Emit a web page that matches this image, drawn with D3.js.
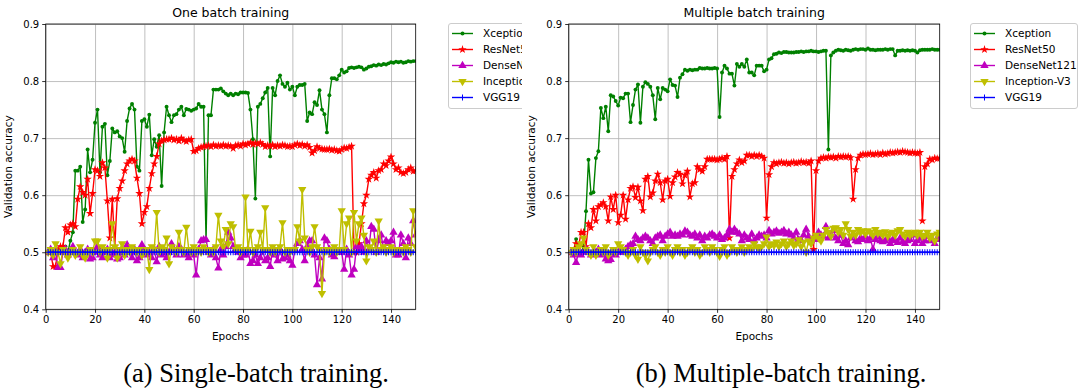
<!DOCTYPE html>
<html>
<head>
<meta charset="utf-8">
<script src="https://cdn.jsdelivr.net/npm/d3@7"></script>
<style>
  html, body { margin: 0; padding: 0; background: #fff; }
  svg { display: block; }
  text { font-family: "DejaVu Sans", sans-serif; fill: #000; }
  .caption { font-family: "Liberation Serif", serif; }
</style>
</head>
<body>
<svg id="chart" width="1078" height="389"></svg>
<script>
// epochs on the x axis
const epochs = d3.range(1, 151);
const seriesNames = ["Xception", "ResNet50", "DenseNet121", "Inception-V3", "VGG19"];
const seriesColors = ["#008000", "#ff0000", "#bf00bf", "#bfbf00", "#0000ff"];
const xTicks = [0, 20, 40, 60, 80, 100, 120, 140];
const yTicks = [0.4, 0.5, 0.6, 0.7, 0.8, 0.9];

// (a) one batch training
const oneXception = [
  0.5, 0.5, 0.5, 0.5, 0.5, 0.5, 0.5, 0.51, 0.5, 0.52,
  0.535, 0.643, 0.643, 0.65, 0.553, 0.575, 0.68, 0.64, 0.662, 0.727,
  0.75, 0.64, 0.72, 0.725, 0.635, 0.66, 0.717, 0.71, 0.712, 0.703,
  0.7, 0.676, 0.73, 0.752, 0.76, 0.75, 0.65, 0.643, 0.73, 0.733,
  0.72, 0.741, 0.67, 0.698, 0.685, 0.705, 0.616, 0.71, 0.755, 0.74,
  0.728, 0.74, 0.742, 0.75, 0.755, 0.74, 0.751, 0.75, 0.748, 0.75,
  0.752, 0.76, 0.755, 0.755, 0.52, 0.74, 0.74, 0.785, 0.785, 0.785,
  0.787, 0.782, 0.778, 0.775, 0.778, 0.775, 0.778, 0.777, 0.78, 0.78,
  0.78, 0.779, 0.75, 0.698, 0.594, 0.755, 0.76, 0.77, 0.78, 0.788,
  0.668, 0.788, 0.775, 0.8, 0.81, 0.795, 0.79, 0.797, 0.785, 0.79,
  0.775, 0.79, 0.793, 0.793, 0.795, 0.73, 0.745, 0.742, 0.763, 0.758,
  0.784, 0.75, 0.742, 0.71, 0.775, 0.805, 0.805, 0.803, 0.81, 0.82,
  0.815, 0.817, 0.823, 0.824, 0.823, 0.824, 0.825, 0.824, 0.82, 0.822,
  0.825, 0.826, 0.828, 0.827, 0.829, 0.828, 0.83, 0.829, 0.831, 0.833,
  0.832, 0.834, 0.833, 0.834, 0.832, 0.833, 0.835, 0.834, 0.835, 0.835
];
const oneResNet = [
  0.5, 0.5, 0.475, 0.475, 0.505, 0.51, 0.51, 0.543, 0.535, 0.548,
  0.55, 0.545, 0.593, 0.615, 0.605, 0.6, 0.628, 0.568, 0.603, 0.645,
  0.643, 0.633, 0.657, 0.648, 0.59, 0.525, 0.593, 0.51, 0.594, 0.612,
  0.625, 0.643, 0.655, 0.66, 0.663, 0.66, 0.63, 0.603, 0.55, 0.57,
  0.58, 0.612, 0.638, 0.655, 0.668, 0.69, 0.695, 0.697, 0.698, 0.698,
  0.7, 0.697, 0.698, 0.695, 0.7, 0.696, 0.694, 0.697, 0.698, 0.677,
  0.678, 0.682, 0.684, 0.685, 0.686, 0.687, 0.685, 0.688, 0.686, 0.687,
  0.686, 0.688, 0.686, 0.687, 0.686, 0.682, 0.687, 0.688, 0.686, 0.69,
  0.688, 0.69, 0.692, 0.689, 0.691, 0.69, 0.692, 0.689, 0.685, 0.687,
  0.686, 0.688, 0.685, 0.687, 0.686, 0.688, 0.687, 0.685, 0.686, 0.685,
  0.688, 0.69, 0.687, 0.689, 0.686, 0.688, 0.684, 0.674, 0.678, 0.685,
  0.682, 0.681, 0.68, 0.68, 0.681, 0.679, 0.68, 0.678, 0.677, 0.68,
  0.683, 0.682, 0.684, 0.686, 0.5, 0.5, 0.515, 0.55, 0.585, 0.6,
  0.628, 0.635, 0.64, 0.63, 0.643, 0.645, 0.655, 0.652, 0.66, 0.667,
  0.655, 0.645, 0.648, 0.64, 0.638, 0.64, 0.645, 0.648, 0.642, 0.643
];
const oneDenseNet = [
  0.5, 0.505, 0.49, 0.5, 0.473, 0.473, 0.5, 0.505, 0.495, 0.5,
  0.51, 0.5, 0.495, 0.505, 0.49, 0.5, 0.505, 0.488, 0.49, 0.5,
  0.51, 0.495, 0.49, 0.5, 0.505, 0.49, 0.495, 0.5, 0.488, 0.49,
  0.5, 0.495, 0.513, 0.5, 0.49, 0.505, 0.485, 0.49, 0.513, 0.505,
  0.495, 0.5, 0.49, 0.505, 0.483, 0.51, 0.495, 0.5, 0.49, 0.5,
  0.515, 0.505, 0.495, 0.51, 0.505, 0.495, 0.498, 0.49, 0.5, 0.495,
  0.46, 0.505, 0.52, 0.522, 0.522, 0.5, 0.495, 0.505, 0.49, 0.472,
  0.505, 0.495, 0.51, 0.535, 0.525, 0.51, 0.505, 0.5, 0.49, 0.495,
  0.495, 0.505, 0.48, 0.485, 0.495, 0.48, 0.49, 0.503, 0.485, 0.49,
  0.475, 0.505, 0.495, 0.485, 0.505, 0.488, 0.49, 0.495, 0.485, 0.477,
  0.505, 0.515, 0.52, 0.505, 0.485, 0.51, 0.52, 0.52, 0.495, 0.443,
  0.49, 0.453, 0.525, 0.52, 0.505, 0.495, 0.492, 0.5, 0.5, 0.5,
  0.47, 0.505, 0.495, 0.46, 0.47, 0.51, 0.505, 0.51, 0.5, 0.52,
  0.505, 0.545, 0.54, 0.5, 0.52, 0.53, 0.505, 0.52, 0.515, 0.52,
  0.535, 0.495, 0.495, 0.53, 0.515, 0.49, 0.525, 0.515, 0.555, 0.53
];
const oneInception = [
  0.5, 0.505, 0.495, 0.515, 0.5, 0.48, 0.505, 0.5, 0.49, 0.5,
  0.505, 0.495, 0.5, 0.51, 0.495, 0.49, 0.5, 0.505, 0.5, 0.52,
  0.52, 0.5, 0.51, 0.505, 0.49, 0.505, 0.55, 0.51, 0.49, 0.505,
  0.515, 0.495, 0.505, 0.5, 0.51, 0.505, 0.5, 0.505, 0.495, 0.5,
  0.505, 0.47, 0.51, 0.505, 0.57, 0.5, 0.51, 0.505, 0.525, 0.48,
  0.51, 0.505, 0.5, 0.535, 0.505, 0.5, 0.544, 0.505, 0.5, 0.51,
  0.5, 0.505, 0.5, 0.51, 0.505, 0.5, 0.505, 0.5, 0.51, 0.565,
  0.52, 0.51, 0.54, 0.515, 0.55, 0.545, 0.505, 0.51, 0.5, 0.505,
  0.597, 0.505, 0.537, 0.5, 0.505, 0.51, 0.535, 0.505, 0.578, 0.505,
  0.5, 0.51, 0.5, 0.505, 0.51, 0.552, 0.5, 0.505, 0.5, 0.505,
  0.505, 0.545, 0.52, 0.61, 0.525, 0.505, 0.5, 0.51, 0.545, 0.51,
  0.505, 0.428, 0.5, 0.505, 0.5, 0.505, 0.51, 0.5, 0.505, 0.573,
  0.505, 0.55, 0.56, 0.5, 0.57, 0.52, 0.55, 0.56, 0.53, 0.485,
  0.51, 0.505, 0.52, 0.5, 0.555, 0.505, 0.51, 0.5, 0.505, 0.51,
  0.5, 0.505, 0.505, 0.505, 0.5, 0.51, 0.505, 0.5, 0.573, 0.51
];
const oneVGG = [
  0.5, 0.5, 0.5, 0.5, 0.5, 0.5, 0.5, 0.5, 0.5, 0.5,
  0.5, 0.5, 0.5, 0.5, 0.5, 0.5, 0.5, 0.5, 0.5, 0.5,
  0.5, 0.5, 0.5, 0.5, 0.5, 0.5, 0.5, 0.5, 0.5, 0.5,
  0.5, 0.5, 0.5, 0.5, 0.5, 0.5, 0.5, 0.5, 0.5, 0.5,
  0.5, 0.5, 0.5, 0.5, 0.5, 0.5, 0.5, 0.5, 0.5, 0.5,
  0.5, 0.5, 0.5, 0.5, 0.5, 0.5, 0.5, 0.5, 0.5, 0.5,
  0.5, 0.5, 0.5, 0.5, 0.5, 0.5, 0.5, 0.5, 0.5, 0.5,
  0.5, 0.5, 0.5, 0.5, 0.5, 0.5, 0.5, 0.5, 0.5, 0.5,
  0.5, 0.5, 0.5, 0.5, 0.5, 0.5, 0.5, 0.5, 0.5, 0.5,
  0.5, 0.5, 0.5, 0.5, 0.5, 0.5, 0.5, 0.5, 0.5, 0.5,
  0.5, 0.5, 0.5, 0.5, 0.5, 0.5, 0.5, 0.5, 0.5, 0.5,
  0.5, 0.5, 0.5, 0.5, 0.5, 0.5, 0.5, 0.5, 0.5, 0.5,
  0.5, 0.5, 0.5, 0.5, 0.5, 0.5, 0.5, 0.5, 0.5, 0.5,
  0.5, 0.5, 0.5, 0.5, 0.5, 0.5, 0.5, 0.5, 0.5, 0.5,
  0.5, 0.5, 0.5, 0.5, 0.5, 0.5, 0.5, 0.5, 0.5, 0.5
];

// (b) multiple batch training
const multiXception = [
  0.5, 0.5, 0.523, 0.5, 0.5, 0.51, 0.572, 0.662, 0.603, 0.605,
  0.665, 0.677, 0.753, 0.735, 0.755, 0.712, 0.775, 0.773, 0.765, 0.757,
  0.771, 0.77, 0.778, 0.778, 0.728, 0.758, 0.785, 0.794, 0.727, 0.79,
  0.798, 0.795, 0.79, 0.775, 0.733, 0.788, 0.768, 0.788, 0.785, 0.782,
  0.803, 0.793, 0.792, 0.772, 0.806, 0.812, 0.82, 0.818, 0.82, 0.819,
  0.82, 0.82, 0.823, 0.822, 0.822, 0.823, 0.822, 0.822, 0.823, 0.822,
  0.737, 0.815, 0.827, 0.822, 0.813, 0.813, 0.792, 0.83, 0.825, 0.83,
  0.825, 0.838, 0.815, 0.815, 0.81, 0.827, 0.827, 0.827, 0.817, 0.82,
  0.838, 0.84, 0.847, 0.848, 0.85, 0.849, 0.851, 0.851, 0.85, 0.85,
  0.85, 0.851, 0.851, 0.852, 0.851, 0.852, 0.852, 0.853, 0.852, 0.852,
  0.851, 0.852, 0.853, 0.853, 0.68, 0.845, 0.85, 0.853, 0.855, 0.854,
  0.853, 0.855, 0.854, 0.853, 0.855, 0.856, 0.855, 0.856, 0.856, 0.855,
  0.857, 0.855, 0.855, 0.854, 0.855, 0.855, 0.855, 0.856, 0.855, 0.856,
  0.856, 0.845, 0.853, 0.853, 0.854, 0.853, 0.854, 0.853, 0.854, 0.853,
  0.85, 0.854, 0.855, 0.855, 0.855, 0.855, 0.856, 0.855, 0.855, 0.855
];
const multiResNet = [
  0.5, 0.5, 0.515, 0.51, 0.535, 0.535, 0.51, 0.55, 0.543, 0.575,
  0.555, 0.58, 0.583, 0.587, 0.58, 0.555, 0.597, 0.575, 0.6, 0.552,
  0.565, 0.6, 0.558, 0.592, 0.612, 0.615, 0.596, 0.614, 0.59, 0.573,
  0.628, 0.633, 0.597, 0.604, 0.625, 0.637, 0.622, 0.592, 0.625, 0.628,
  0.598, 0.622, 0.632, 0.64, 0.637, 0.62, 0.635, 0.642, 0.597, 0.62,
  0.622, 0.65, 0.645, 0.642, 0.65, 0.663, 0.663, 0.663, 0.663, 0.662,
  0.663, 0.665, 0.663, 0.668, 0.525, 0.633, 0.645, 0.655, 0.662, 0.657,
  0.66, 0.67, 0.67, 0.668, 0.67, 0.668, 0.67, 0.668, 0.665, 0.56,
  0.636, 0.65, 0.657, 0.655, 0.657, 0.658, 0.656, 0.657, 0.655, 0.657,
  0.658, 0.656, 0.657, 0.659, 0.657, 0.658, 0.656, 0.66, 0.505, 0.643,
  0.66, 0.665, 0.666, 0.665, 0.667, 0.666, 0.667, 0.665, 0.668, 0.667,
  0.668, 0.667, 0.668, 0.666, 0.593, 0.645, 0.665, 0.67, 0.672, 0.671,
  0.672, 0.673, 0.671, 0.672, 0.673, 0.671, 0.674, 0.672, 0.673, 0.675,
  0.674, 0.675, 0.676, 0.675, 0.677, 0.676, 0.675, 0.674, 0.675, 0.674,
  0.673, 0.675, 0.555, 0.65, 0.655, 0.663, 0.662, 0.665, 0.664, 0.665
];
const multiDenseNet = [
  0.5, 0.495, 0.482, 0.5, 0.495, 0.5, 0.505, 0.5, 0.495, 0.5,
  0.5, 0.505, 0.495, 0.5, 0.488, 0.485, 0.487, 0.5, 0.495, 0.5,
  0.505, 0.5, 0.505, 0.51, 0.513, 0.515, 0.528, 0.522, 0.52, 0.525,
  0.528, 0.525, 0.52, 0.515, 0.525, 0.528, 0.53, 0.52, 0.528, 0.532,
  0.535, 0.528, 0.53, 0.528, 0.532, 0.53, 0.537, 0.535, 0.53, 0.528,
  0.532, 0.525, 0.53, 0.52, 0.528, 0.525, 0.53, 0.532, 0.528, 0.525,
  0.53, 0.522, 0.525, 0.53, 0.54, 0.535, 0.54, 0.535, 0.532, 0.52,
  0.53, 0.525, 0.522, 0.532, 0.52, 0.525, 0.53, 0.528, 0.53, 0.525,
  0.538, 0.532, 0.535, 0.537, 0.533, 0.535, 0.538, 0.532, 0.535, 0.53,
  0.525, 0.535, 0.522, 0.52, 0.53, 0.54, 0.528, 0.52, 0.525, 0.522,
  0.535, 0.53, 0.528, 0.545, 0.525, 0.53, 0.538, 0.525, 0.52, 0.53,
  0.515, 0.52, 0.513, 0.525, 0.53, 0.52, 0.518, 0.525, 0.522, 0.527,
  0.52, 0.525, 0.505, 0.522, 0.527, 0.52, 0.518, 0.52, 0.525, 0.515,
  0.522, 0.52, 0.517, 0.525, 0.518, 0.515, 0.52, 0.522, 0.53, 0.515,
  0.52, 0.525, 0.515, 0.52, 0.528, 0.52, 0.522, 0.515, 0.525, 0.522
];
const multiInception = [
  0.5, 0.505, 0.5, 0.51, 0.515, 0.525, 0.505, 0.5, 0.495, 0.51,
  0.495, 0.5, 0.505, 0.5, 0.51, 0.495, 0.5, 0.505, 0.5, 0.515,
  0.51, 0.505, 0.5, 0.495, 0.5, 0.505, 0.495, 0.488, 0.51, 0.5,
  0.495, 0.485, 0.5, 0.505, 0.51, 0.5, 0.495, 0.505, 0.5, 0.51,
  0.5, 0.495, 0.505, 0.51, 0.5, 0.505, 0.495, 0.5, 0.505, 0.51,
  0.5, 0.505, 0.495, 0.5, 0.51, 0.505, 0.5, 0.51, 0.505, 0.5,
  0.493, 0.505, 0.51, 0.495, 0.5, 0.51, 0.505, 0.5, 0.505, 0.51,
  0.5, 0.505, 0.51, 0.505, 0.515, 0.51, 0.505, 0.51, 0.515, 0.527,
  0.51, 0.515, 0.512, 0.518, 0.51, 0.515, 0.52, 0.51, 0.515, 0.52,
  0.512, 0.515, 0.522, 0.51, 0.518, 0.5, 0.52, 0.515, 0.525, 0.53,
  0.525, 0.52, 0.53, 0.54, 0.535, 0.528, 0.542, 0.543, 0.535, 0.54,
  0.53, 0.55, 0.54, 0.528, 0.535, 0.53, 0.54, 0.535, 0.538, 0.532,
  0.538, 0.535, 0.53, 0.54, 0.533, 0.535, 0.53, 0.536, 0.528, 0.533,
  0.535, 0.53, 0.538, 0.54, 0.532, 0.528, 0.535, 0.53, 0.533, 0.535,
  0.53, 0.535, 0.528, 0.53, 0.535, 0.525, 0.53, 0.52, 0.532, 0.535
];
const multiVGG = [
  0.5, 0.5, 0.5, 0.5, 0.5, 0.5, 0.5, 0.5, 0.5, 0.5,
  0.5, 0.5, 0.5, 0.5, 0.5, 0.5, 0.5, 0.5, 0.5, 0.5,
  0.5, 0.5, 0.5, 0.5, 0.5, 0.5, 0.5, 0.5, 0.5, 0.5,
  0.5, 0.5, 0.5, 0.5, 0.5, 0.5, 0.5, 0.5, 0.5, 0.5,
  0.5, 0.5, 0.5, 0.5, 0.5, 0.5, 0.5, 0.5, 0.5, 0.5,
  0.5, 0.5, 0.5, 0.5, 0.5, 0.5, 0.5, 0.5, 0.5, 0.5,
  0.5, 0.5, 0.5, 0.5, 0.5, 0.5, 0.5, 0.5, 0.5, 0.5,
  0.5, 0.5, 0.5, 0.5, 0.5, 0.5, 0.5, 0.5, 0.5, 0.5,
  0.5, 0.5, 0.5, 0.5, 0.5, 0.5, 0.5, 0.5, 0.5, 0.5,
  0.5, 0.5, 0.5, 0.5, 0.5, 0.5, 0.5, 0.5, 0.5, 0.5,
  0.5, 0.5, 0.5, 0.5, 0.5, 0.5, 0.5, 0.5, 0.5, 0.5,
  0.5, 0.5, 0.5, 0.5, 0.5, 0.5, 0.5, 0.5, 0.5, 0.5,
  0.5, 0.5, 0.5, 0.5, 0.5, 0.5, 0.5, 0.5, 0.5, 0.5,
  0.5, 0.5, 0.5, 0.5, 0.5, 0.5, 0.5, 0.5, 0.5, 0.5,
  0.5, 0.5, 0.5, 0.5, 0.5, 0.5, 0.5, 0.5, 0.5, 0.5
];

const svg = d3.select("#chart");

// marker shapes per series: dot, star, up triangle, down triangle, plus
const markerFor = [
  { type: d3.symbolCircle, size: 12, rotate: 0 },
  { type: d3.symbolStar, size: 22, rotate: 0 },
  { type: d3.symbolTriangle, size: 30, rotate: 0 },
  { type: d3.symbolTriangle, size: 30, rotate: 180 },
  { type: d3.symbolCross, size: 0, rotate: 0 }
];

function drawMarker(g, i, cx, cy) {
  const color = seriesColors[i];
  if (i === 4) {
    // '+' marker, stroked
    g.append("path")
      .attr("d", `M${cx - 3},${cy}H${cx + 3}M${cx},${cy - 3}V${cy + 3}`)
      .attr("stroke", color).attr("stroke-width", 1).attr("fill", "none");
    return;
  }
  const m = markerFor[i];
  g.append("path")
    .attr("d", d3.symbol().type(m.type).size(m.size)())
    .attr("transform", `translate(${cx},${cy}) rotate(${m.rotate})`)
    .attr("fill", color);
}

function drawPanel(p) {
  const root = svg.append("g");
  if (p.clipRight) {
    svg.append("clipPath").attr("id", p.id + "-panel")
      .append("rect").attr("x", 0).attr("y", 0).attr("width", p.clipRight).attr("height", 389);
    root.attr("clip-path", `url(#${p.id}-panel)`);
  }

  const x = d3.scaleLinear().domain([0, 150]).range([p.left, p.right]);
  const y = d3.scaleLinear().domain([0.4, 0.9]).range([p.bottom, p.top]);

  // grid
  root.append("g")
    .attr("transform", `translate(0,${p.bottom})`)
    .call(d3.axisBottom(x).tickValues(xTicks).tickSize(-(p.bottom - p.top)).tickFormat(""))
    .call(g => g.select(".domain").remove())
    .call(g => g.selectAll("line").attr("stroke", "#b0b0b0").attr("stroke-width", 0.8));
  root.append("g")
    .attr("transform", `translate(${p.left},0)`)
    .call(d3.axisLeft(y).tickValues(yTicks).tickSize(-(p.right - p.left)).tickFormat(""))
    .call(g => g.select(".domain").remove())
    .call(g => g.selectAll("line").attr("stroke", "#b0b0b0").attr("stroke-width", 0.8));

  // data
  svg.append("clipPath").attr("id", p.id + "-plot")
    .append("rect").attr("x", p.left).attr("y", p.top)
    .attr("width", p.right - p.left).attr("height", p.bottom - p.top);
  const plot = root.append("g").attr("clip-path", `url(#${p.id}-plot)`);
  const line = d3.line().x((d, j) => x(epochs[j])).y(d => y(d));
  p.series.forEach((vals, i) => {
    const sg = plot.append("g");
    sg.append("path").datum(vals)
      .attr("d", line)
      .attr("fill", "none")
      .attr("stroke", seriesColors[i])
      .attr("stroke-width", 1.4)
      .attr("stroke-linejoin", "round");
    vals.forEach((v, j) => drawMarker(sg, i, x(epochs[j]), y(v)));
  });

  // axes
  const ax = root.append("g")
    .attr("transform", `translate(0,${p.bottom})`)
    .call(d3.axisBottom(x).tickValues(xTicks).tickSize(3.5).tickPadding(3).tickFormat(d3.format("d")));
  ax.select(".domain").remove();
  ax.selectAll("text").attr("font-size", 10).attr("font-family", "DejaVu Sans");
  ax.selectAll("line").attr("stroke-width", 0.8);
  const ay = root.append("g")
    .attr("transform", `translate(${p.left},0)`)
    .call(d3.axisLeft(y).tickValues(yTicks).tickSize(3.5).tickPadding(3).tickFormat(d3.format(".1f")));
  ay.select(".domain").remove();
  ay.selectAll("text").attr("font-size", 10).attr("font-family", "DejaVu Sans");
  ay.selectAll("line").attr("stroke-width", 0.8);

  root.append("rect")
    .attr("x", p.left).attr("y", p.top)
    .attr("width", p.right - p.left).attr("height", p.bottom - p.top)
    .attr("fill", "none").attr("stroke", "#000").attr("stroke-width", 0.8);

  // labels
  root.append("text")
    .attr("x", (p.left + p.right) / 2).attr("y", 17)
    .attr("text-anchor", "middle").attr("font-size", 12.5)
    .text(p.title);
  root.append("text")
    .attr("x", (p.left + p.right) / 2).attr("y", 340)
    .attr("text-anchor", "middle").attr("font-size", 10.5)
    .text("Epochs");
  root.append("text")
    .attr("transform", `translate(${p.left - 34},${(p.top + p.bottom) / 2}) rotate(-90)`)
    .attr("text-anchor", "middle").attr("font-size", 10.5)
    .text("Validation accuracy");

  // legend
  const lg = root.append("g").attr("transform", `translate(${p.legendX},23)`);
  lg.append("rect")
    .attr("x", 0.5).attr("y", 0.5).attr("width", p.legendW).attr("height", 85)
    .attr("rx", 2.5).attr("fill", "#fff").attr("fill-opacity", 0.8)
    .attr("stroke", "#cccccc").attr("stroke-width", 1);
  seriesNames.forEach((name, i) => {
    const cy = 10.5 + i * 16;
    lg.append("line")
      .attr("x1", 4).attr("x2", 25).attr("y1", cy).attr("y2", cy)
      .attr("stroke", seriesColors[i]).attr("stroke-width", 1.4);
    drawMarker(lg, i, 14.5, cy);
    lg.append("text")
      .attr("x", 35).attr("y", cy + 3.7)
      .attr("font-size", 10.5)
      .text(name);
  });

  // caption
  svg.append("text")
    .attr("class", "caption")
    .attr("x", p.captionX).attr("y", 382)
    .attr("text-anchor", "middle").attr("font-size", 26.5)
    .text(p.caption);
}

drawPanel({
  id: "a", left: 45.7, right: 415.7, top: 24, bottom: 309.3,
  title: "One batch training", caption: "(a) Single-batch training.", captionX: 256,
  series: [oneXception, oneResNet, oneDenseNet, oneInception, oneVGG],
  legendX: 448, legendW: 120, clipRight: 522
});
drawPanel({
  id: "b", left: 568.7, right: 939.7, top: 24, bottom: 309.3,
  title: "Multiple batch training", caption: "(b) Multiple-batch training.", captionX: 781,
  series: [multiXception, multiResNet, multiDenseNet, multiInception, multiVGG],
  legendX: 970, legendW: 107, clipRight: null
});
</script>
</body>
</html>
